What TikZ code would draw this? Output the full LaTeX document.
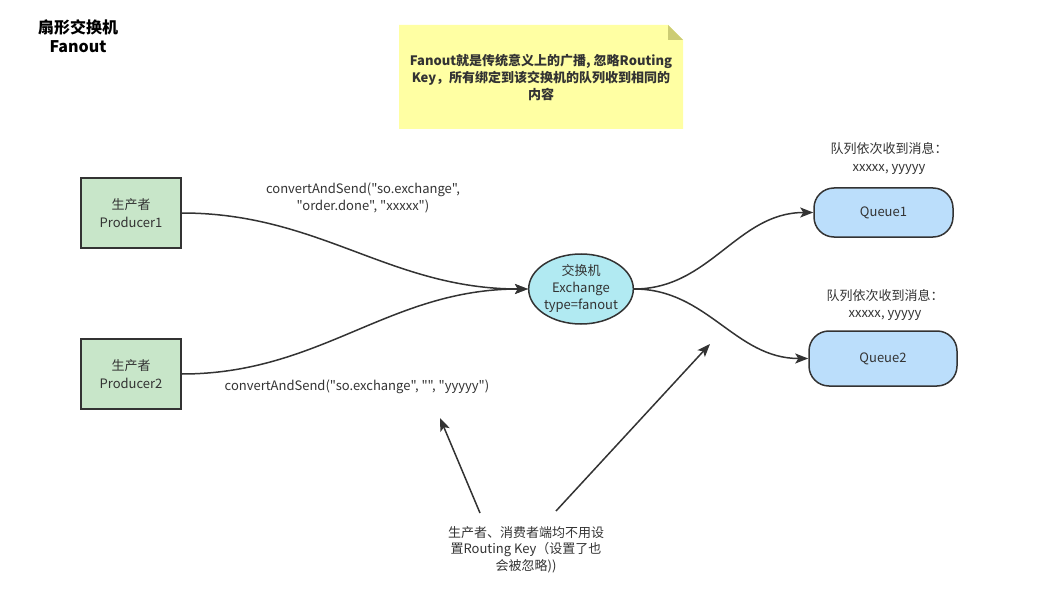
\documentclass[tikz,border=0pt]{standalone}
\usepackage{fontspec}
\setmainfont{Noto Sans CJK SC}[Ligatures=TeXOff]
\usetikzlibrary{arrows.meta,shapes.geometric}
\definecolor{linegray}{HTML}{333333}
\definecolor{textgray}{HTML}{333333}
\definecolor{producerfill}{HTML}{C8E6C9}
\definecolor{exchangefill}{HTML}{B1EAF2}
\definecolor{queuefill}{HTML}{BBDEFB}
\definecolor{notefill}{HTML}{FFFFA3}
\definecolor{notefold}{HTML}{CCCC74}

\begin{document}
\begin{tikzpicture}[x=1pt, y=-1pt, font=\fontsize{13}{17}\selectfont, text=textgray]
\useasboundingbox (0,0) rectangle (1053,591);

\coordinate (P1_c) at (131,213);
\coordinate (P2_c) at (131,374);
\coordinate (EX_c) at (581,289);
\coordinate (Q1_c) at (883.5,212.5);
\coordinate (Q2_c) at (883,358.5);
\coordinate (A1_s) at (480,513);
\coordinate (A1_e) at (440,418);
\coordinate (A2_s) at (556,511);
\coordinate (A2_e) at (710,344);


\fill[notefill] (399,25) -- (668,25) -- (683,40) -- (683,129) -- (399,129) -- cycle;
\fill[notefold] (668,25) -- (683,40) -- (668,40) -- cycle;
\node[font=\fontsize{13}{17}\selectfont\bfseries, align=center] (NOTE) at (541,77) {Fanout就是传统意义上的广播, 忽略Routing\\Key，所有绑定到该交换机的队列收到相同的\\内容};

\node[font=\fontsize{16}{19}\selectfont\bfseries, text=black, align=center] (TITLE) at (78,36) {扇形交换机\\Fanout};


\tikzset{ProducerStyle/.style = {
 draw = linegray,
 line width = 1.5pt,
 fill = producerfill,
 align = center,
 inner sep = 0pt,
 minimum width = 100pt,
 minimum height = 70pt,
 font = \fontsize{13}{18}\selectfont} }

\tikzset{QueueStyle/.style = {
 draw = linegray,
 line width = 1.5pt,
 fill = queuefill,
 rounded corners = 20pt,
 inner sep = 0pt} }

\node[ProducerStyle] (P1) at (P1_c) {生产者\\Producer1};
\node[ProducerStyle] (P2) at (P2_c) {生产者\\Producer2};
\node[draw=linegray, line width=1.5pt, fill=exchangefill, ellipse, align=center, inner sep=0pt,
 minimum width=102pt, minimum height=70pt] (EX) at (EX_c) {交换机\\Exchange\\type=fanout};
\node[QueueStyle, minimum width=139pt, minimum height=49pt] (Q1) at (Q1_c) {Queue1};
\node[QueueStyle, minimum width=148pt, minimum height=55pt] (Q2) at (Q2_c) {Queue2};

\node[align=center, font=\fontsize{13}{18}\selectfont] (L1) at (889,158) {队列依次收到消息：\\xxxxx, yyyyy};
\node[align=center, font=\fontsize{13}{17}\selectfont] (L2) at (885,304.5) {队列依次收到消息：\\xxxxx, yyyyy};
\node[align=center] (S1) at (363,198) {convertAndSend("so.exchange",\\"order.done", "xxxxx")};
\node (S2) at (357,387) {convertAndSend("so.exchange", "", "yyyyy")};
\node[align=center, font=\fontsize{13}{16.5}\selectfont] (HINT) at (526,549.5) {生产者、消费者端均不用设\\置Routing Key（设置了也\\会被忽略))};


\tikzset{EdgeStyle/.style = {draw=linegray, line width=1.5pt, -{Stealth[length=13pt, width=10pt, inset=3pt]}} }

\draw[EdgeStyle] (P1.east) to[out=0, in=180] (EX.west);
\draw[EdgeStyle] (P2.east) to[out=0, in=180] (EX.west);
\draw[EdgeStyle] (EX.east) to[out=0, in=180] (Q1.west);
\draw[EdgeStyle] (EX.east) to[out=0, in=180] (Q2.west);
\draw[EdgeStyle] (A1_s) -- (A1_e);
\draw[EdgeStyle] (A2_s) -- (A2_e);

\end{tikzpicture}
\end{document}
